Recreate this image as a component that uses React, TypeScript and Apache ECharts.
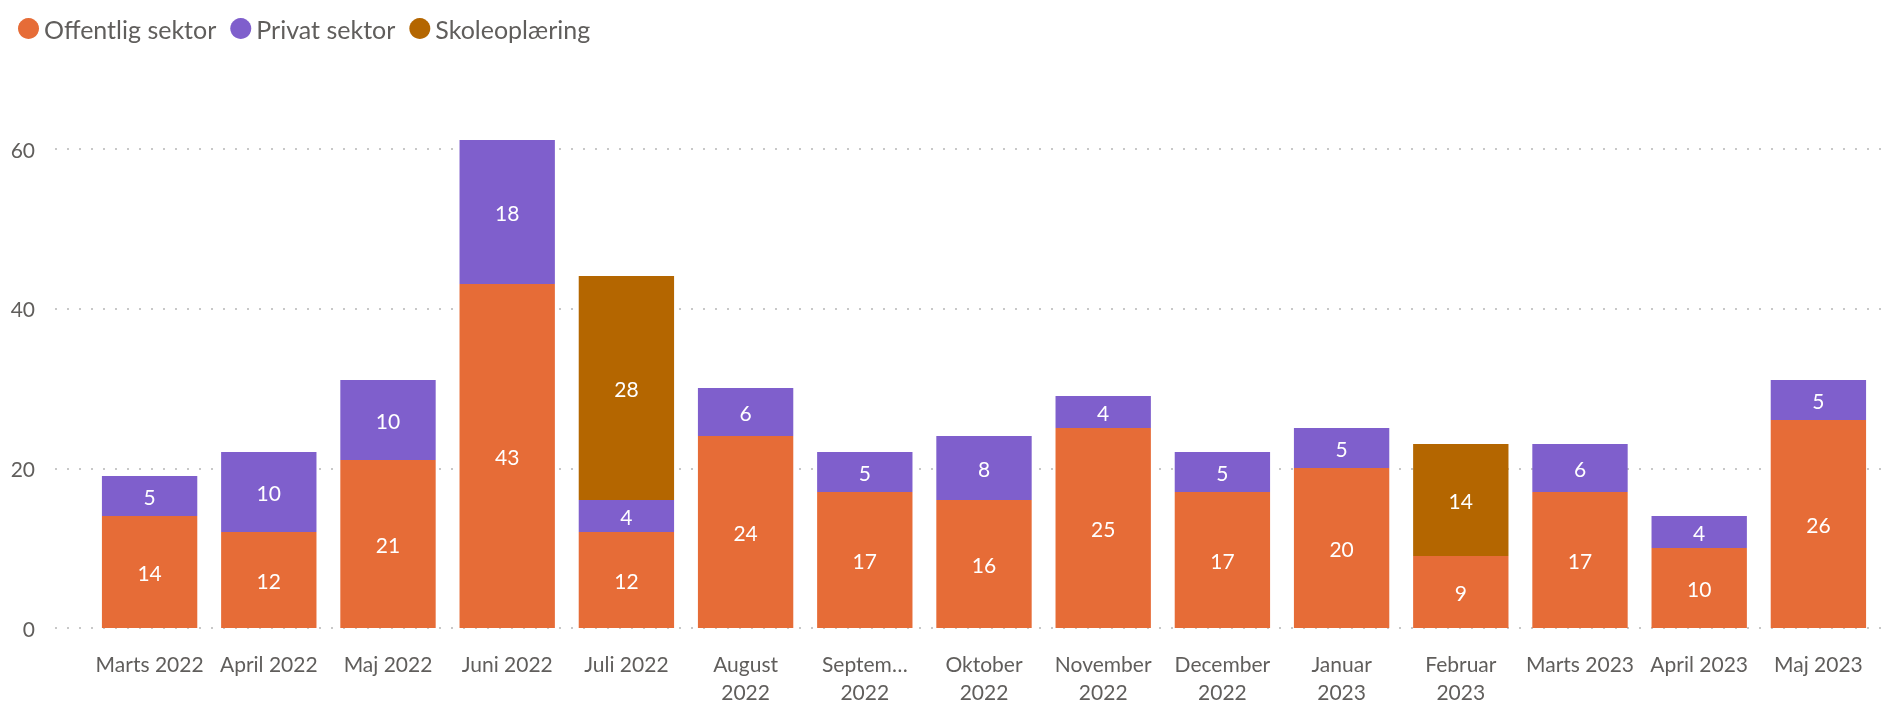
import React, { useEffect, useRef } from "react";
import * as echarts from "echarts";

const categories = [
  "Marts 2022", "April 2022", "Maj 2022", "Juni 2022", "Juli 2022",
  "August\n2022", "Septem…\n2022", "Oktober\n2022", "November\n2022", "December\n2022",
  "Januar\n2023", "Februar\n2023", "Marts 2023", "April 2023", "Maj 2023",
];
const offentlig = [14, 12, 21, 43, 12, 24, 17, 16, 25, 17, 20, 9, 17, 10, 26];
const privat = [5, 10, 10, 18, 4, 6, 5, 8, 4, 5, 5, null, 6, 4, 5];
const skole = [null, null, null, null, 28, null, null, null, null, null, null, 14, null, null, null];
const yTicks = [0, 20, 40, 60];

const FONT = "Lato, 'Noto Sans', sans-serif";
const TEXT = "#605E5C";

export default function App() {
  const ref = useRef<HTMLDivElement>(null);
  useEffect(() => {
    if (!ref.current) return;
    const chart = echarts.init(ref.current, null, { renderer: "svg" });
    const label = {
      show: true,
      position: "inside",
      color: "#ffffff",
      fontSize: 21,
      fontFamily: FONT,
    };
    const mk = (name: string, data: (number | null)[], color: string) => ({
      name,
      type: "bar",
      stack: "total",
      data,
      barCategoryGap: "20%",
      itemStyle: { color },
      label,
      xAxisIndex: 0,
      yAxisIndex: 0,
    });
    chart.setOption({
      animation: false,
      textStyle: { fontFamily: FONT },
      legend: {
        left: 13,
        top: 11,
        icon: "circle",
        itemWidth: 21,
        itemHeight: 21,
        itemGap: 14,
        textStyle: { color: TEXT, fontSize: 25, fontFamily: FONT },
        data: ["Offentlig sektor", "Privat sektor", "Skoleoplæring"],
      },
      grid: [
        { left: 90, right: 13, top: 140, bottom: 76, outerBoundsMode: "none", containLabel: false },
        { left: 55, right: 10, top: 149, bottom: 76, outerBoundsMode: "none", containLabel: false },
      ],
      xAxis: [
        {
          type: "category",
          gridIndex: 0,
          data: categories,
          axisLine: { show: false },
          axisTick: { show: false },
          axisLabel: {
            interval: 0,
            color: TEXT,
            fontSize: 21,
            lineHeight: 28,
            margin: 21,
            fontFamily: FONT,
          },
        },
        { type: "value", gridIndex: 1, min: 0, max: 1, show: false },
      ],
      yAxis: [
        {
          type: "value",
          gridIndex: 0,
          min: 0,
          max: "dataMax",
          interval: 20,
          axisLabel: { show: false },
          splitLine: { show: false },
          axisLine: { show: false },
          axisTick: { show: false },
        },
        {
          type: "value",
          gridIndex: 1,
          min: yTicks[0],
          max: yTicks[yTicks.length - 1],
          interval: 20,
          axisLine: { show: false },
          axisTick: { show: false },
          axisLabel: { color: TEXT, fontSize: 21, margin: 20, fontFamily: FONT },
          splitLine: { show: true, lineStyle: { color: "#C8C8C8", type: [2, 10], width: 2 } },
        },
      ],
      series: [
        mk("Offentlig sektor", offentlig, "#E66C37"),
        mk("Privat sektor", privat, "#7F5FCC"),
        mk("Skoleoplæring", skole, "#B46600"),
      ],
    });
    return () => chart.dispose();
  }, []);
  return (
    <div
      ref={ref}
      style={{ position: "fixed", left: 0, top: 0, width: 1891, height: 704 }}
    />
  );
}
